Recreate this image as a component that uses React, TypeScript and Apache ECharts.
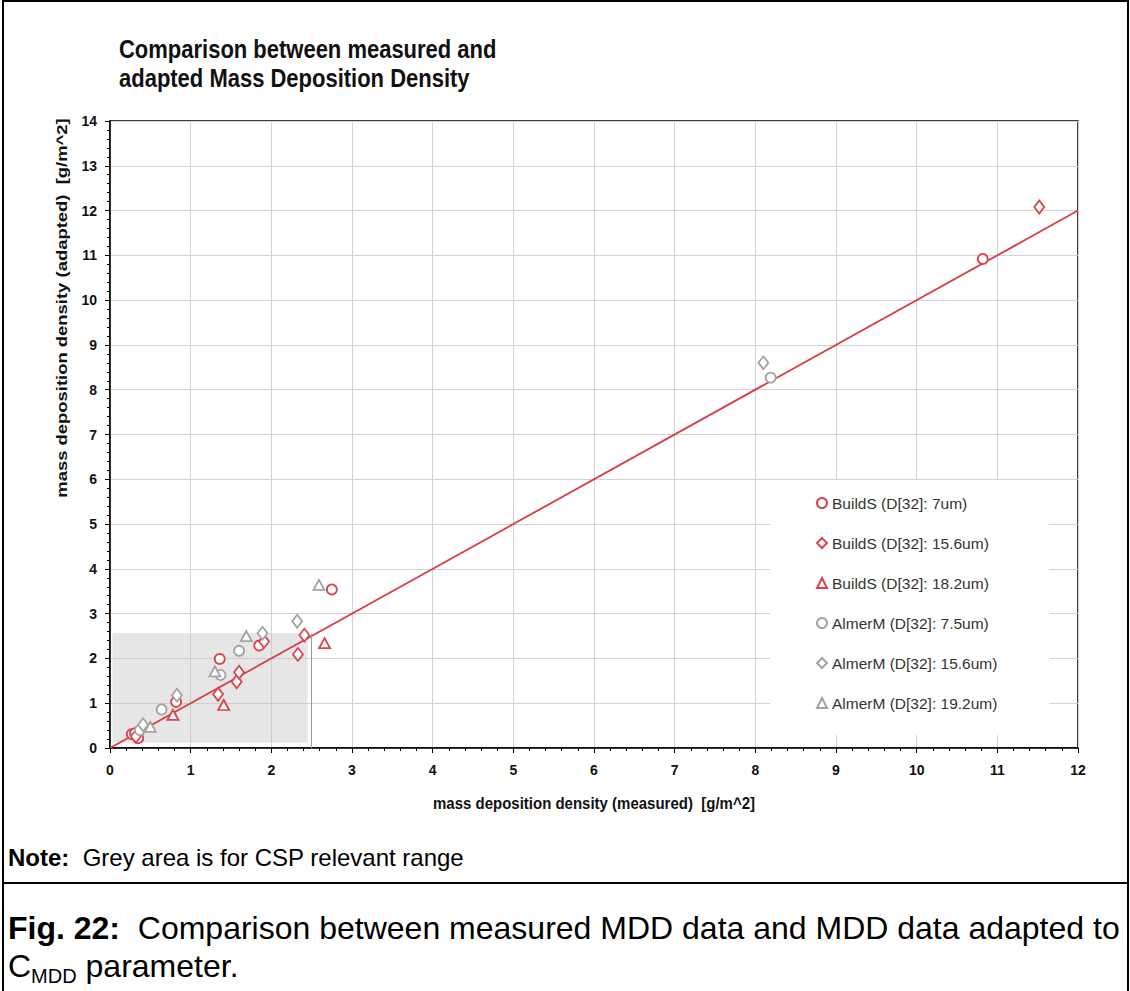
import React, { useEffect, useRef } from "react";
import * as echarts from "echarts";

// ---- data ----
const seriesNames = [
  "BuildS (D[32]: 7um)",
  "BuildS (D[32]: 15.6um)",
  "BuildS (D[32]: 18.2um)",
  "AlmerM (D[32]: 7.5um)",
  "AlmerM (D[32]: 15.6um)",
  "AlmerM (D[32]: 19.2um)",
];

const buildS7 = [
  [0.27, 0.31], [0.31, 0.33], [0.35, 0.22], [0.82, 1.03], [1.36, 1.99],
  [1.85, 2.29], [2.75, 3.54], [10.82, 10.92],
];
const buildS156 = [
  [0.32, 0.26], [1.34, 1.2], [1.57, 1.48], [1.6, 1.69], [1.91, 2.38],
  [2.33, 2.09], [2.41, 2.52], [11.52, 12.08],
];
const buildS182 = [[0.78, 0.74], [1.41, 0.96], [2.66, 2.34]];
const almerM75 = [[0.37, 0.4], [0.64, 0.86], [1.37, 1.63], [1.6, 2.17], [8.19, 8.27]];
const almerM156 = [[0.41, 0.52], [0.83, 1.18], [1.89, 2.56], [2.32, 2.83], [8.1, 8.6]];
const almerM192 = [[0.5, 0.47], [1.3, 1.71], [1.69, 2.5], [2.59, 3.64]];

const identityLine = [[0, 0], [12, 12]];
const cspArea = [[0.03, 0.12], [2.45, 2.57]];
const cspLine = [[2.5, 0], [2.5, 2.55]];

const xTicks = { min: 0, max: 12, interval: 1 };
const yTicks = { min: 0, max: 14, interval: 1 };

const titleLines = ["Comparison between measured and", "adapted Mass Deposition Density"];
const xName = "mass deposition density (measured)  [g/m^2]";
const yName = "mass deposition density (adapted)  [g/m^2]";

const FONT = '"Liberation Sans", Arial, Helvetica, sans-serif';
const RED = "#d9444c";
const GREY = "#a3a3a3";

export default function App() {
  const ref = useRef<HTMLDivElement>(null);

  useEffect(() => {
    if (!ref.current) return;
    const chart = echarts.init(ref.current, null, { renderer: "svg" });

    const mk = (name: string, data: number[][], symbol: string, size: any, color: string) => ({
      name,
      type: "scatter",
      data,
      symbol,
      symbolSize: size,
      z: 5,
      itemStyle: { color: "#fff", borderColor: color, borderWidth: 1.8, opacity: 1 },
    });

    const option: any = {
      animation: false,
      backgroundColor: "#fff",
      textStyle: { fontFamily: FONT },
      grid: { left: 110, right: 52, top: 121, bottom: 243, show: true, borderColor: "#000", borderWidth: 1.5, backgroundColor: "transparent" },
      xAxis: {
        type: "value",
        min: xTicks.min,
        max: xTicks.max,
        interval: xTicks.interval,
        axisLine: { show: true, lineStyle: { color: "#000", width: 1.5 } },
        axisTick: { show: true, length: 5, lineStyle: { color: "#000" } },
        minorTick: { show: true, splitNumber: 5, length: 3, lineStyle: { color: "#000" } },
        splitLine: { show: true, lineStyle: { color: "#d2d2d2", width: 1 } },
        axisLabel: { fontSize: 14, fontWeight: "bold", color: "#111", margin: 15, fontFamily: FONT },
      },
      yAxis: {
        type: "value",
        min: yTicks.min,
        max: yTicks.max,
        interval: yTicks.interval,
        axisLine: { show: true, lineStyle: { color: "#000", width: 1.5 } },
        axisTick: { show: true, length: 5, lineStyle: { color: "#000" } },
        minorTick: { show: true, splitNumber: 5, length: 3, lineStyle: { color: "#000" } },
        splitLine: { show: true, lineStyle: { color: "#d2d2d2", width: 1 } },
        axisLabel: { fontSize: 14, fontWeight: "bold", color: "#111", margin: 13, fontFamily: FONT },
      },
      legend: {
        data: seriesNames,
        orient: "vertical",
        left: 770,
        top: 480,
        itemWidth: 10,
        itemHeight: 10,
        itemGap: 24,
        padding: [15, 52, 24, 46],
        backgroundColor: "#fff",
        textStyle: { fontSize: 15.5, color: "#333", fontFamily: FONT },
      },
      series: [
        {
          name: "1:1",
          type: "line",
          data: identityLine,
          symbol: "none",
          z: 3,
          lineStyle: { color: "#d83c44", width: 1.8 },
          markArea: {
            silent: true,
            itemStyle: { color: "rgba(200,200,200,0.45)" },
            data: [[{ coord: cspArea[0] }, { coord: cspArea[1] }]],
          },
          markLine: {
            silent: true,
            symbol: "none",
            label: { show: false },
            lineStyle: { color: "#9a9a9a", width: 1, type: "solid" },
            data: [[{ coord: cspLine[0] }, { coord: cspLine[1] }]],
          },
        },
        mk(seriesNames[0], buildS7, "circle", 10, RED),
        mk(seriesNames[1], buildS156, "diamond", [10, 13], RED),
        mk(seriesNames[2], buildS182, "triangle", [11, 10], RED),
        mk(seriesNames[3], almerM75, "circle", 10, GREY),
        mk(seriesNames[4], almerM156, "diamond", [10, 13], GREY),
        mk(seriesNames[5], almerM192, "triangle", [11, 10], GREY),
      ],
      graphic: [
        { type: "rect", shape: { x: 3, y: 1, width: 1125, height: 1010 }, style: { fill: "none", stroke: "#000", lineWidth: 2 }, silent: true },
        { type: "line", shape: { x1: 3, y1: 883, x2: 1128, y2: 883 }, style: { stroke: "#000", lineWidth: 2 }, silent: true },
        { type: "text", x: 119, y: 49, scaleY: 1.15, style: { text: titleLines[0], font: `bold 22px ${FONT}`, fill: "#111", align: "left", verticalAlign: "middle" } },
        { type: "text", x: 119, y: 78, scaleY: 1.15, style: { text: titleLines[1], font: `bold 22px ${FONT}`, fill: "#111", align: "left", verticalAlign: "middle" } },
        { type: "text", x: 62, y: 308, rotation: Math.PI / 2, scaleX: 1.23, style: { text: yName, font: `bold 15px ${FONT}`, fill: "#111", align: "center", verticalAlign: "middle" } },
        { type: "text", x: 594, y: 803, scaleY: 1.15, style: { text: xName, font: `bold 15px ${FONT}`, fill: "#111", align: "center", verticalAlign: "middle" } },
        {
          type: "text", x: 8, y: 857,
          style: {
            text: "{b|Note:}  Grey area is for CSP relevant range",
            fontSize: 24, fontFamily: FONT, fill: "#000", verticalAlign: "middle",
            rich: { b: { fontWeight: "bold", fontSize: 24, fontFamily: FONT, fill: "#000" } },
          },
        },
        {
          type: "text", x: 8, y: 928,
          style: {
            text: "{b|Fig. 22:}  Comparison between measured MDD data and MDD data adapted to",
            fontSize: 32, fontFamily: FONT, fill: "#000", verticalAlign: "middle",
            rich: { b: { fontWeight: "bold", fontSize: 32, fontFamily: FONT, fill: "#000" } },
          },
        },
        {
          type: "text", x: 8, y: 966,
          style: {
            text: "{n|C}{s|MDD}{n| parameter.}",
            fontSize: 32, fontFamily: FONT, fill: "#000", verticalAlign: "middle",
            rich: {
              n: { fontSize: 32, fontFamily: FONT, fill: "#000", verticalAlign: "bottom" },
              s: { fontSize: 20, fontFamily: FONT, fill: "#000", verticalAlign: "bottom", padding: [0, 0, -4, 0] },
            },
          },
        },
      ],
    };

    chart.setOption(option);
    return () => chart.dispose();
  }, []);

  return (
    <div
      ref={ref}
      style={{ position: "fixed", left: 0, top: 0, width: 1130, height: 991, background: "#fff" }}
    />
  );
}
